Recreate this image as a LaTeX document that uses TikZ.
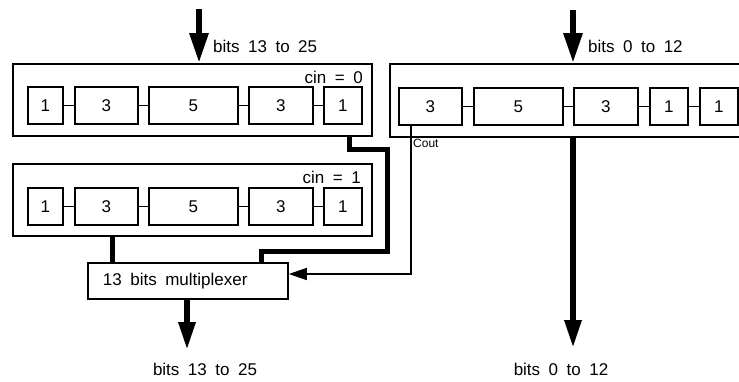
\documentclass[tikz,border=0pt]{standalone}
\usepackage{fontspec}
\setmainfont[WordSpace=1.8]{Liberation Sans}
\usetikzlibrary{arrows.meta}
\begin{document}
\begin{tikzpicture}[x=1pt,y=-1pt,
  txt/.style={font=\fontsize{17}{20}\selectfont, inner sep=0pt},
  outerbox/.style={draw, line width=1.8pt, inner sep=0pt, anchor=north west},
  cell/.style={draw, line width=1.8pt, inner sep=0pt, anchor=west, minimum height=37pt, font=\fontsize{17}{20}\selectfont},
  link/.style={line width=1.5pt},
  bigarrow/.style={line width=6pt, -{Triangle[length=30pt,width=18pt]}},
  wire/.style={line width=5pt, line join=miter},
  thinarrow/.style={line width=1.5pt, -{Triangle[length=18pt,width=12pt]}}]
\useasboundingbox (0,0) rectangle (739,381);
% outer boxes
\node[outerbox, minimum width=359pt, minimum height=72pt] (B1) at (12,63) {};
\node[outerbox, minimum width=359pt, minimum height=72pt] (B2) at (12,163) {};
\node[outerbox, minimum width=380pt, minimum height=73pt] (R) at (389,63) {};
% cells row 1
\node[cell, minimum width=35pt] (a1) at (27,105.5) {1};
\node[cell, minimum width=63pt] (a2) at (74,105.5) {3};
\node[cell, minimum width=89pt] (a3) at (148,105.5) {5};
\node[cell, minimum width=64pt] (a4) at (248,105.5) {3};
\node[cell, minimum width=38pt] (a5) at (323,105.5) {1};
% cells row 2
\node[cell, minimum width=35pt] (b1) at (27,206.5) {1};
\node[cell, minimum width=63pt] (b2) at (74,206.5) {3};
\node[cell, minimum width=89pt] (b3) at (148,206.5) {5};
\node[cell, minimum width=64pt] (b4) at (248,206.5) {3};
\node[cell, minimum width=38pt] (b5) at (323,206.5) {1};
% cells right
\node[cell, minimum width=63pt] (r1) at (398,106.5) {3};
\node[cell, minimum width=89pt] (r2) at (473,106.5) {5};
\node[cell, minimum width=64pt] (r3) at (573,106.5) {3};
\node[cell, minimum width=38pt] (r4) at (649,106.5) {1};
\node[cell, minimum width=38pt] (r5) at (699,106.5) {1};
\foreach \p/\q in {a1/a2,a2/a3,a3/a4,a4/a5,b1/b2,b2/b3,b3/b4,b4/b5,r1/r2,r2/r3,r3/r4,r4/r5}
  \draw[link] (\p.east) -- (\q.west);
% labels
\node[txt, anchor=east] (cin0) at (363,77) {cin = 0};
\node[txt, anchor=east] (cin1) at (361,177) {cin = 1};
\node[txt, anchor=west] (inL) at (213,46) {bits 13 to 25};
\node[txt, anchor=west] (inR) at (588,46) {bits 0 to 12};
\node[txt] (outL) at (205,369) {bits 13 to 25};
\node[txt] (outR) at (561,369) {bits 0 to 12};
\node[font=\fontsize{12}{13}\selectfont, inner sep=0pt, anchor=west] (cout) at (413,143) {Cout};
% multiplexer
\node[outerbox, minimum height=36pt, inner xsep=15pt, font=\fontsize{17}{20}\selectfont] (mux) at (87,262) {\makebox[170pt][l]{\raisebox{-1.5pt}{13 bits multiplexer}}};
% input arrows
\coordinate (tl) at (199,9);
\coordinate (tr) at (573,10);
\draw[bigarrow] (tl) -- (tl |- B1.north);
\draw[bigarrow] (tr) -- (tr |- R.north);
% output arrows
\coordinate (bl) at (187,350);
\coordinate (br) at (573,348);
\draw[bigarrow, -{Triangle[length=28pt,width=16pt]}] (bl |- mux.south) -- (bl);
\draw[bigarrow, -{Triangle[length=28pt,width=16pt]}] (br |- R.south) -- (br);
% wires
\coordinate (c0) at (349.5,0);
\coordinate (w1) at (387,149);
\coordinate (w2) at (261,251);
\draw[wire] (c0 |- B1.south) |- (w1) |- (w2) -- (w2 |- mux.north);
\coordinate (c1) at (112,0);
\draw[wire] (c1 |- B2.south) -- (c1 |- mux.north);
\coordinate (c2) at (411,274);
\draw[thinarrow] (c2 |- r1.south) -- (c2) -- (c2 -| mux.east);
\end{tikzpicture}
\end{document}
